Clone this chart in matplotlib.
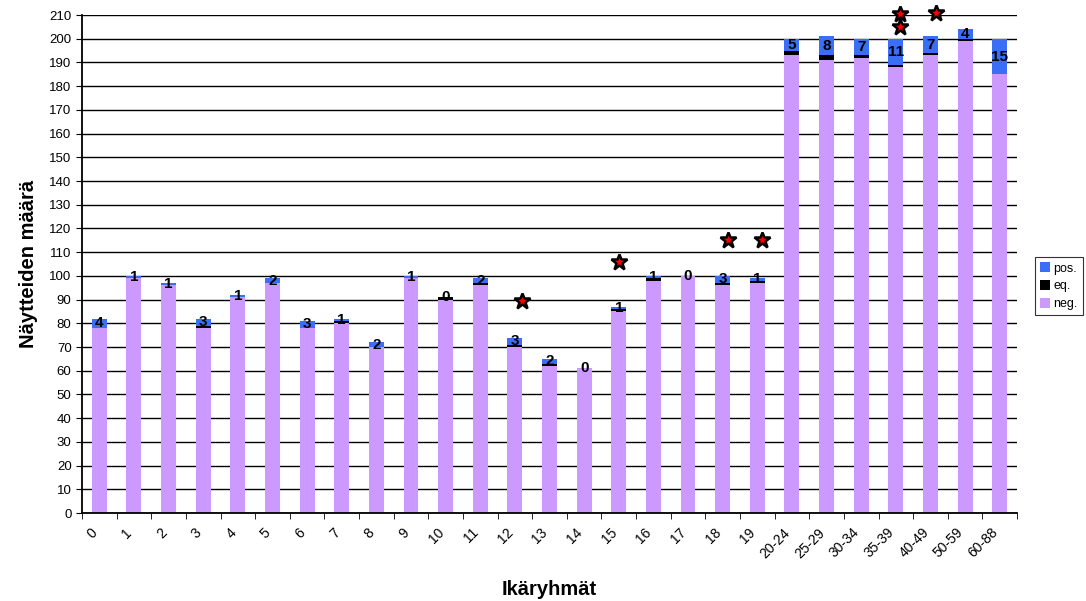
import matplotlib.pyplot as plt
import matplotlib.transforms as mtransforms
import numpy as np

plt.rcParams["font.family"] = ["Liberation Sans", "DejaVu Sans"]

# ikäryhmät ja näytteet
ryhmat = ["0", "1", "2", "3", "4", "5", "6", "7", "8", "9", "10", "11", "12", "13",
          "14", "15", "16", "17", "18", "19", "20-24", "25-29", "30-34", "35-39",
          "40-49", "50-59", "60-88"]
neg = [78, 99, 96, 78, 91, 97, 78, 80, 70, 99, 90, 96, 70, 62,
       61, 85, 98, 100, 96, 97, 193, 191, 192, 188, 193, 199, 185]
eq = [0, 0, 0, 1, 0, 0, 0, 1, 0, 0, 1, 1, 1, 1,
      0, 1, 1, 0, 1, 1, 2, 2, 1, 1, 1, 1, 0]
pos = [4, 1, 1, 3, 1, 2, 3, 1, 2, 1, 0, 2, 3, 2,
       0, 1, 1, 0, 3, 1, 5, 8, 7, 11, 7, 4, 15]

# tähdet (merkitsevät erot)
tahti_x = [12.2, 15.0, 18.15, 19.15, 23.12, 23.12, 24.15]
tahti_y = [89.5, 106, 115, 115, 205, 210.5, 211]

fig = plt.figure(figsize=(10.86, 6.01), dpi=100)
ax = fig.add_axes([0.0755, 0.1464, 0.861, 0.8286])

x = np.arange(len(ryhmat))
neg = np.array(neg)
eq = np.array(eq)
pos = np.array(pos)
w = 0.43

ax.bar(x, neg, w, color="#CC99FF", label="neg.", zorder=2)
ax.bar(x, eq, w, bottom=neg, color="black", label="eq.", zorder=2)
ax.bar(x, pos, w, bottom=neg + eq, color="#3A6EF6", label="pos.", zorder=2)

for i in range(len(x)):
    ax.text(x[i], neg[i] + eq[i] + pos[i] / 2.0, str(pos[i]), ha="center", va="center",
            fontsize=11, fontweight="bold", zorder=4)

ax.plot(tahti_x, tahti_y, linestyle="none", marker="*", markersize=12,
        markerfacecolor="red", markeredgecolor="black", markeredgewidth=1.8,
        zorder=5, clip_on=False)

ax.set_xlim(-0.5, len(ryhmat) - 0.5)
ax.set_ylim(0, 210)
ax.set_yticks(np.arange(0, 211, 10))
ax.set_xticks(x)
ax.set_xticklabels(ryhmat, rotation=45, ha="right", rotation_mode="anchor")
ax.tick_params(axis="y", length=4, labelsize=9.5)
ax.set_xticks(np.arange(-0.5, len(ryhmat), 1), minor=True)
ax.tick_params(axis="x", which="major", length=0, pad=9, labelsize=10)
ax.tick_params(axis="x", which="minor", length=4)

# tick-tekstit hieman vasemmalle kuten alkuperäisessä
siirto = mtransforms.ScaledTranslation(-0.09, 0, fig.dpi_scale_trans)
for t in ax.get_xticklabels():
    t.set_transform(t.get_transform() + siirto)

ax.grid(axis="y", color="black", linewidth=1, zorder=0)
ax.set_axisbelow(True)
for s in ["top", "right"]:
    ax.spines[s].set_visible(False)
ax.spines["left"].set_linewidth(1.3)
ax.spines["bottom"].set_linewidth(1.3)

ax.set_ylabel("Näytteiden määrä", fontsize=14.5, fontweight="bold", labelpad=8)
ax.set_xlabel("Ikäryhmät", fontsize=14.5, fontweight="bold", labelpad=14)

h, l = ax.get_legend_handles_labels()
leg = fig.legend(h[::-1], l[::-1], loc="upper left", bbox_to_anchor=(0.947, 0.582),
                 fontsize=9, frameon=True, fancybox=False, edgecolor="black",
                 handlelength=0.8, handleheight=0.8, handletextpad=0.3,
                 borderpad=0.4, labelspacing=0.45)
leg.get_frame().set_linewidth(0.8)

fig.savefig("out.png", dpi=100)
